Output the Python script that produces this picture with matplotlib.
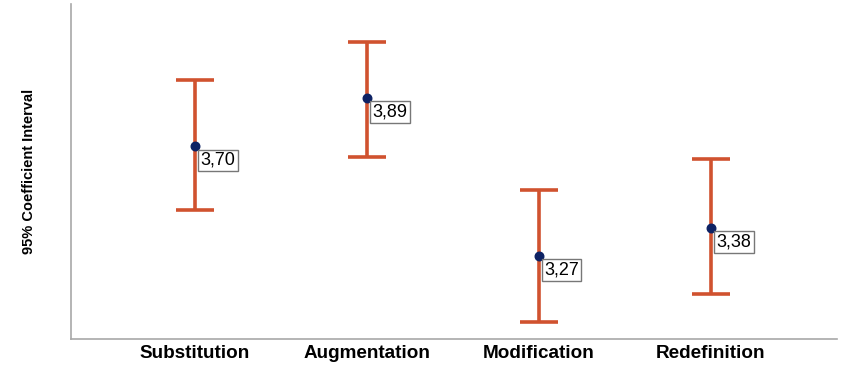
import matplotlib
matplotlib.use("Agg")
import matplotlib.pyplot as plt
import numpy as np

categories = ["Substitution", "Augmentation", "Modification", "Redefinition"]
means = [3.70, 3.89, 3.27, 3.38]
upper = [3.96, 4.11, 3.53, 3.65]
lower = [3.45, 3.66, 3.01, 3.12]
labels = ["3,70", "3,89", "3,27", "3,38"]

fig = plt.figure(figsize=(8.45, 3.69), dpi=100)
ax = fig.add_axes([71/845, 30/369, (837-71)/845, 335/369])

x = np.arange(len(categories))
m = np.array(means)
yerr = np.vstack([m - np.array(lower), np.array(upper) - m])
ax.errorbar(x, m, yerr=yerr, fmt='none', ecolor='#D0522F', elinewidth=2.6,
            capsize=14, capthick=2.6, zorder=2)
ax.scatter(x, m, s=38, color='#0E2264', zorder=3)
for xi, yi, lab in zip(x, m, labels):
    ax.annotate(lab, (xi, yi), xytext=(4, -4), textcoords='offset points',
                ha='left', va='top', fontsize=13, family=['Liberation Sans', 'DejaVu Sans'],
                bbox=dict(boxstyle='square,pad=0.12', fc='white', ec='#777777', lw=1),
                zorder=4)

ax.set_xlim(-0.721, 3.733)
ax.set_ylim(2.944, 4.259)
ax.set_xticks(x)
ax.set_xticklabels(categories, fontsize=13.6, fontweight='bold',
                   family=['Liberation Sans', 'DejaVu Sans'])
ax.tick_params(axis='x', length=0, pad=4)
ax.set_yticks([])
for s in ['top', 'right']:
    ax.spines[s].set_visible(False)
for s in ['left', 'bottom']:
    ax.spines[s].set_color('#A8A8A8')
    ax.spines[s].set_linewidth(1.2)
ax.set_ylabel("95% Coefficient Interval", fontsize=10.5, fontweight='bold',
              family=['Liberation Sans', 'DejaVu Sans'], labelpad=25)

fig.savefig("out.png", dpi=100)
